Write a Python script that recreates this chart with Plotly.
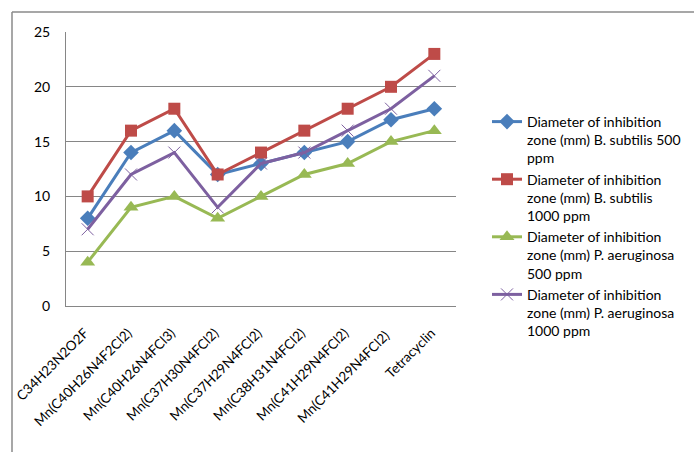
import plotly.graph_objects as go

compounds = [
    "C34H23N2O2F", "Mn(C40H26N4F2Cl2)", "Mn(C40H26N4FCl3)", "Mn(C37H30N4FCl2)",
    "Mn(C37H29N4FCl2)", "Mn(C38H31N4FCl2)", "Mn(C41H29N4FCl2)", "Mn(C41H29N4FCl2) ",
    "Tetracyclin",
]
b_subtilis_500 = [8, 14, 16, 12, 13, 14, 15, 17, 18]
b_subtilis_1000 = [10, 16, 18, 12, 14, 16, 18, 20, 23]
p_aeruginosa_500 = [4, 9, 10, 8, 10, 12, 13, 15, 16]
p_aeruginosa_1000 = [7, 12, 14, 9, 13, 14, 16, 18, 21]

series = [
    ("Diameter of inhibition<br>zone (mm) B. subtilis 500<br>ppm", b_subtilis_500,
     "#4A7EBB", dict(symbol="diamond", size=12)),
    ("Diameter of inhibition<br>zone (mm) B. subtilis<br>1000 ppm", b_subtilis_1000,
     "#BE4B48", dict(symbol="square", size=12)),
    ("Diameter of inhibition<br>zone (mm) P. aeruginosa<br>500 ppm", p_aeruginosa_500,
     "#98B954", dict(symbol="triangle-up", size=13)),
    ("Diameter of inhibition<br>zone (mm) P. aeruginosa<br>1000 ppm", p_aeruginosa_1000,
     "#7D60A0", dict(symbol="x-thin-open", size=12, line=dict(width=1, color="#B3A2C7"))),
]

fig = go.Figure()
for name, vals, color, mk in series:
    marker = dict(color=color, **mk)
    fig.add_trace(go.Scatter(
        x=compounds, y=vals, name=name, mode="lines+markers",
        line=dict(color=color, width=3), marker=marker,
    ))

W, H = 694, 452
L, R, T, B = 66, 456, 32, 306
pw, ph = R - L, B - T

def px(x):
    return (x - L) / pw

def py(y):
    return (B - y) / ph

fig.update_layout(
    width=W, height=H,
    margin=dict(l=L, r=W - R, t=T, b=H - B, pad=0, autoexpand=False),
    paper_bgcolor="white", plot_bgcolor="white",
    font=dict(family="Lato", size=14, color="#000000"),
    showlegend=True,
    legend=dict(
        x=px(487), y=py(106), xanchor="left", yanchor="top",
        font=dict(family="Lato", size=14, color="#000000"),
        tracegroupgap=0, itemwidth=30, valign="top",
        bgcolor="rgba(0,0,0,0)",
    ),
    shapes=[
        dict(type="line", xref="paper", yref="paper", x0=px(12), x1=px(694),
             y0=py(12), y1=py(12), line=dict(color="#8a8a8a", width=1.5)),
        dict(type="line", xref="paper", yref="paper", x0=px(12), x1=px(12),
             y0=py(12), y1=py(452), line=dict(color="#8a8a8a", width=1.5)),
    ],
)
fig.update_xaxes(
    type="category", range=[-0.5, len(compounds) - 0.5], tickangle=-45, showgrid=False,
    showline=True, linecolor="#868686", linewidth=1,
    ticks="", ticklabelstandoff=13, ticklabelshift=-3,
    tickfont=dict(family="Lato", size=13.5),
)
fig.update_yaxes(
    range=[0, 25], dtick=5, showgrid=True, gridcolor="#868686", gridwidth=1,
    showline=True, linecolor="#868686", linewidth=1, zeroline=False,
    tickfont=dict(family="Lato", size=14), ticklabelstandoff=12,
)

fig.write_html("out.html")
